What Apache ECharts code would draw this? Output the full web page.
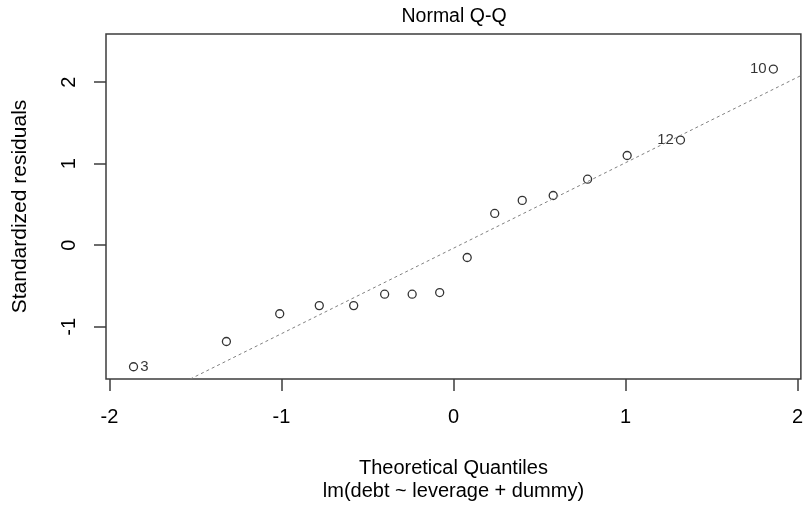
<!DOCTYPE html>
<html>
<head>
<meta charset="utf-8">
<script src="https://cdn.jsdelivr.net/npm/echarts@6/dist/echarts.min.js"></script>
<style>
  html, body { margin: 0; padding: 0; background: #fff; }
  #chart { width: 806px; height: 508px; }
</style>
</head>
<body>
<div id="chart"></div>
<script>
// theoretical quantiles vs standardized residuals
var theoQ = [-1.86, -1.32, -1.01, -0.78, -0.58, -0.40, -0.24, -0.08, 0.08, 0.24, 0.40, 0.58, 0.78, 1.01, 1.32, 1.86];
var stdRes = [-1.49, -1.18, -0.84, -0.74, -0.74, -0.60, -0.60, -0.58, -0.15, 0.39, 0.55, 0.61, 0.81, 1.10, 1.29, 2.16];
var pointIds = ['3', '', '', '', '', '', '', '', '', '', '', '', '', '', '12', '10'];

// qqline ends (clipped to the plot box)
var qqLineX = [-1.53, 2.02];
var qqLineY = [-1.64, 2.08];

var xTicks = [-2, -1, 0, 1, 2];
var yTicks = [-1, 0, 1, 2];

var font = '"Liberation Sans", Arial, sans-serif';

var points = theoQ.map(function (x, i) {
  var item = { value: [x, stdRes[i]] };
  if (pointIds[i]) {
    item.label = {
      show: true,
      formatter: pointIds[i],
      position: x < 0 ? 'right' : 'left',
      distance: 2,
      fontSize: 15,
      fontFamily: font,
      color: '#000'
    };
  }
  return item;
});

var chart = echarts.init(document.getElementById('chart'));

chart.setOption({
  animation: false,
  backgroundColor: '#fff',
  title: {
    text: 'Normal Q-Q',
    left: 454,
    top: 6,
    textAlign: 'center',
    padding: 0,
    textStyle: { fontSize: 19.5, fontWeight: 'normal', color: '#000', fontFamily: font, lineHeight: 22 }
  },
  grid: {
    left: 106, right: 4, top: 34, bottom: 129,
    show: true,
    borderColor: '#3c3c3c',
    borderWidth: 1.5,
    backgroundColor: 'transparent'
  },
  xAxis: {
    type: 'value',
    min: -2.02,
    max: 2.02,
    name: 'Theoretical Quantiles\nlm(debt ~ leverage + dummy)',
    nameLocation: 'middle',
    nameGap: 78,
    nameTextStyle: { fontSize: 20, color: '#000', fontFamily: font, lineHeight: 23 },
    axisLine: { show: false, onZero: false },
    splitLine: { show: false },
    axisTick: {
      show: true, length: 12, customValues: xTicks,
      lineStyle: { color: '#3c3c3c', width: 1.5 }
    },
    axisLabel: {
      customValues: xTicks, margin: 28, fontSize: 20, lineHeight: 20,
      color: '#000', fontFamily: font
    }
  },
  yAxis: {
    type: 'value',
    min: -1.64,
    max: 2.59,
    name: 'Standardized residuals',
    nameLocation: 'middle',
    nameGap: 74,
    nameTextStyle: { fontSize: 21, color: '#000', fontFamily: font, lineHeight: 24 },
    axisLine: { show: false, onZero: false },
    splitLine: { show: false },
    axisTick: {
      show: true, length: 12, customValues: yTicks,
      lineStyle: { color: '#3c3c3c', width: 1.5 }
    },
    axisLabel: {
      customValues: yTicks, rotate: 90, margin: 27, fontSize: 20, lineHeight: 20,
      color: '#000', fontFamily: font
    }
  },
  series: [
    {
      type: 'scatter',
      data: points,
      symbol: 'circle',
      symbolSize: 8,
      itemStyle: { color: 'rgba(0,0,0,0)', borderColor: '#000', borderWidth: 1.3 },
      silent: true,
      z: 2
    },
    {
      type: 'line',
      data: qqLineX.map(function (x, i) { return [x, qqLineY[i]]; }),
      showSymbol: false,
      lineStyle: { color: '#808080', width: 1, type: [3, 3] },
      silent: true,
      z: 3
    }
  ]
});
</script>
</body>
</html>
